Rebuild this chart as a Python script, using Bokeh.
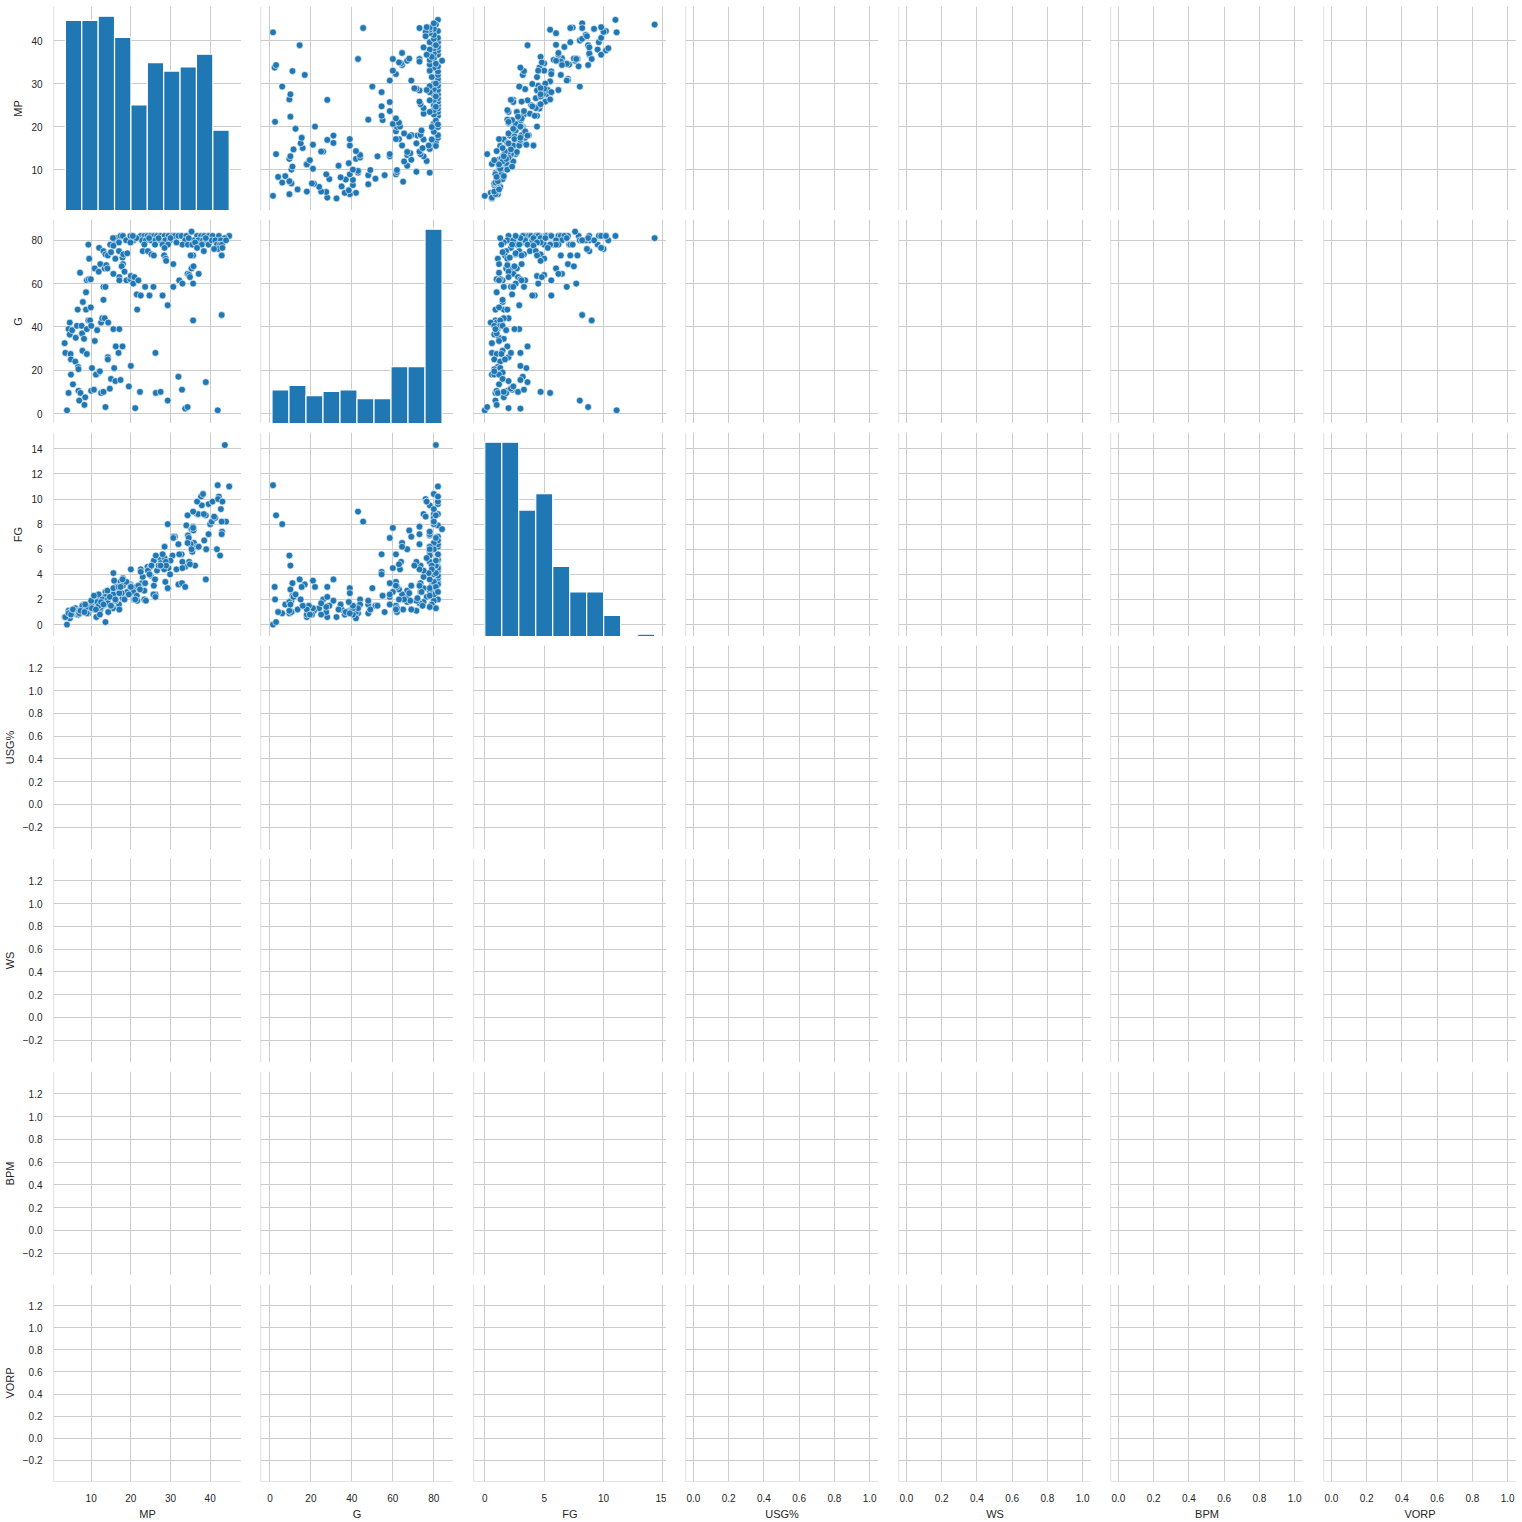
# Pair grid of player stats: MP, G and FG have values, the other four columns are empty
from bokeh.plotting import figure
from bokeh.layouts import gridplot
from bokeh.models import Range1d, LinearAxis, Grid, FixedTicker, Span
from bokeh.embed import file_html
from bokeh.resources import INLINE

names = ["MP", "G", "FG", "USG%", "WS", "BPM", "VORP"]

# one entry per player
mp = [15.8, 16.3, 17.4, 18.0, 18.8, 19.9, 20.7, 19.9, 22.5, 23.4, 24.2, 25.0, 25.8, 26.6, 27.5, 28.5,
      29.5, 30.5, 31.1, 22.8, 23.8, 25.0, 26.2, 27.5, 28.7, 29.9, 23.4, 26.1, 28.0, 29.4, 32.0, 32.8,
      34.0, 35.3, 36.7, 37.7, 38.5, 39.6, 33.7, 35.9, 37.0, 38.2, 39.0, 40.0, 33.0, 34.4, 35.5, 36.7,
      37.9, 39.6, 40.6, 42.2, 44.8, 43.7, 40.4, 41.3, 42.7, 41.7, 42.5, 43.0, 42.0, 43.1, 21.4, 24.6,
      27.0, 30.0, 34.6, 38.9, 36.2, 31.5, 44.0, 20.5, 17.0, 15.5, 9.3, 9.5, 12.0, 13.1, 13.6, 14.2,
      14.8, 15.6, 16.1, 17.0, 17.9, 18.1, 19.1, 15.0, 23.0, 24.3, 25.2, 25.8, 28.5, 28.4, 28.8, 28.9,
      35.7, 35.1, 38.4, 36.7, 42.9, 41.0, 7.2, 8.9, 9.4, 9.9, 10.9, 11.9, 12.3, 13.4, 13.8, 14.1,
      15.6, 17.1, 17.1, 18.0, 17.7, 18.4, 18.9, 19.9, 20.0, 20.6, 20.9, 21.9, 30.7, 32.2, 33.0, 34.3,
      34.7, 34.9, 35.3, 35.8, 35.7, 37.1, 6.6, 7.9, 8.7, 8.7, 9.3, 9.9, 13.1, 13.6, 13.1, 21.5,
      22.5, 21.6, 23.6, 24.7, 25.7, 28.0, 30.7, 29.3, 35.7, 42.9, 12.5, 12.8, 13.4, 14.3, 9.7, 4.6,
      3.3, 4.3, 4.6, 5.2, 6.1, 6.4, 7.6, 7.7, 8.2, 8.9, 10.0, 10.9, 11.5, 15.6, 17.1, 16.2,
      17.9, 16.9, 3.5, 4.8, 4.9, 6.0, 6.7, 6.8, 7.8, 8.9, 10.2, 11.3, 11.9, 14.2, 14.2, 15.8,
      26.2, 20.0, 32.0, 3.9, 4.3, 4.9, 5.4, 6.8, 7.0, 7.3, 8.3, 8.5, 10.0, 10.7, 11.2, 12.2,
      12.5, 13.1, 13.6, 14.7, 15.0, 16.1, 17.4, 19.5, 21.1, 22.3, 26.3, 27.5, 29.3, 32.9, 33.7, 34.3,
      38.9, 41.9]
g = [80, 81, 82, 82, 80, 82, 80, 79, 82, 82, 82, 82, 82, 82, 82, 82,
     82, 82, 82, 80, 80, 80, 80, 80, 80, 80, 78, 78, 78, 78, 82, 82,
     82, 84, 82, 82, 82, 82, 80, 80, 80, 80, 80, 80, 78, 78, 78, 78,
     78, 78, 82, 82, 82, 81, 80, 80, 80, 78, 78, 78, 76, 76.5, 81, 81,
     81, 81, 81, 81, 79, 79, 80, 82, 79, 81, 78, 71.5, 76.5, 75, 73.5, 73,
     78, 77.5, 71.5, 75, 72, 73.5, 74, 74.5, 75, 75, 73.5, 73, 76.5, 73, 71.5, 70.5,
     73, 73, 75, 76.5, 73, 76, 65, 61.5, 62, 62, 67, 65.5, 69, 67, 68.5, 67,
     64.5, 63, 61.5, 69, 68, 65.5, 61.5, 62, 63.5, 60, 63, 61.5, 69, 61.5, 60, 64.5,
     64, 63, 67, 68, 60, 64.5, 48, 51.5, 56, 48, 43, 49, 58.5, 58.5, 52.5, 55,
     54.5, 48, 58.5, 54.5, 58.5, 54.5, 58.5, 50, 43, 45.5, 42, 44, 44, 42, 43, 42,
     32.5, 39, 36.5, 38.5, 35, 40.5, 40.5, 37, 34.5, 39, 40.5, 33.5, 38.5, 39, 39, 31,
     31, 28, 28, 27.5, 25, 24, 21.5, 20.5, 29, 27.5, 21, 18, 19, 26, 25, 21,
     28, 22, 17, 1.5, 9.5, 18, 13.5, 10.5, 6, 9.5, 4, 7.5, 10.5, 11, 18, 19.5,
     9.5, 10, 3, 11.5, 16, 15, 15.5, 12.5, 2.5, 10, 9.5, 10, 6, 11, 2.3, 3,
     14.5, 1.5]
fg = [2.9, 3.0, 3.4, 3.7, 2.4, 3.2, 2.0, 3.1, 4.4, 2.0, 4.6, 3.9, 5.1, 4.3, 5.2, 6.2,
      4.5, 5.5, 7.0, 3.3, 1.9, 4.6, 2.4, 4.9, 3.4, 4.0, 2.7, 3.6, 5.6, 2.9, 6.4, 5.6,
      7.9, 7.6, 8.8, 10.2, 6.7, 9.6, 4.6, 6.5, 8.8, 10.4, 6.0, 8.0, 5.0, 7.1, 5.8, 6.2,
      9.5, 7.2, 9.8, 10.2, 11.0, 14.3, 8.2, 8.5, 9.2, 6.0, 5.5, 7.4, 10.0, 9.8, 3.0, 4.1,
      4.7, 5.1, 6.9, 8.7, 4.7, 4.4, 8.2, 2.6, 1.6, 1.3, 1.4, 1.1, 2.2, 1.8, 2.6, 1.7,
      2.3, 4.1, 1.9, 2.9, 2.1, 3.3, 2.6, 1.5, 3.8, 4.3, 4.7, 3.1, 5.3, 4.4, 5.0, 4.7,
      7.8, 6.4, 8.8, 9.8, 7.2, 8.6, 1.2, 1.5, 1.0, 1.3, 1.8, 2.4, 1.2, 2.2, 1.9, 2.7,
      2.4, 2.8, 1.2, 3.1, 2.5, 2.0, 3.4, 3.0, 4.4, 2.6, 2.0, 3.1, 7.0, 5.6, 4.5, 6.5,
      5.0, 4.8, 6.0, 7.5, 7.7, 6.2, 0.9, 1.5, 1.0, 1.6, 0.9, 1.2, 1.6, 2.2, 1.5, 2.3,
      4.2, 1.9, 3.3, 4.0, 2.4, 5.6, 6.9, 2.9, 9.0, 8.2, 1.4, 2.0, 1.6, 1.0, 1.3, 0.5,
      0.6, 1.1, 0.8, 1.0, 1.2, 0.8, 1.3, 1.0, 1.6, 0.9, 1.5, 1.2, 1.8, 2.9, 2.5, 1.9,
      3.6, 3.0, 0.6, 1.0, 0.8, 1.3, 1.1, 0.8, 1.5, 1.4, 1.3, 0.6, 1.5, 2.0, 1.7, 3.5,
      2.2, 3.0, 3.2, 0.0, 0.9, 0.8, 1.2, 1.0, 0.9, 1.1, 1.0, 1.6, 1.9, 2.3, 1.2, 0.8,
      1.8, 1.6, 0.2, 2.2, 1.5, 2.0, 3.0, 2.4, 2.0, 2.8, 5.5, 4.7, 8.0, 3.3, 3.0, 8.7,
      3.6, 11.1]

# histogram counts on the diagonal (10 bins each)
mp_counts = [45, 45, 46, 41, 25, 35, 33, 34, 37, 19]
g_counts = [23, 26, 19, 22, 23, 17, 17, 39, 39, 133]
fg_counts = [83, 83, 54, 61, 30, 19, 19, 9, 0, 1]
mp_span = (3.5, 44.8)
g_span = (1.0, 84.0)
fg_span = (0.0, 14.3)

values = {"MP": mp, "G": g, "FG": fg}
hists = {"MP": (mp_counts, mp_span), "G": (g_counts, g_span), "FG": (fg_counts, fg_span)}

x_lims = {"MP": (0.5, 47.9), "G": (-4.6, 89.6), "FG": (-0.95, 15.3)}
y_lims = {"MP": (0.5, 47.9), "G": (-4.6, 89.6), "FG": (-0.95, 15.3)}
empty_x = (-0.045, 1.05)
empty_y = (-0.395, 1.395)

x_ticks = {"MP": [10, 20, 30, 40], "G": [0, 20, 40, 60, 80], "FG": [0, 5, 10, 15]}
y_ticks = {"MP": [10, 20, 30, 40], "G": [0, 20, 40, 60, 80], "FG": [0, 2, 4, 6, 8, 10, 12, 14]}
empty_xt = [0.0, 0.2, 0.4, 0.6, 0.8, 1.0]
empty_yt = [-0.2, 0.0, 0.2, 0.4, 0.6, 0.8, 1.0, 1.2]

blue = "#1f77b4"
light = "#cccccc"
ink = "#262626"
font = "Liberation Sans"

# panel frame sizes and the gaps in front of each column / above each row
frame_w, frame_h = 193, 204
col_gap = [48, 19, 20, 19, 20, 19, 20]
row_gap = [6, 9, 9, 9, 9, 9, 9]
bottom_gap = 34


def tick_text(t):
    if isinstance(t, float):
        s = "%.1f" % t
    else:
        s = str(t)
    return s.replace("-", "\u2212")


def style_axis(ax, ticks):
    ax.ticker = FixedTicker(ticks=ticks)
    ax.major_label_overrides = {t: tick_text(t) for t in ticks}
    ax.axis_line_color = None
    ax.major_tick_line_color = None
    ax.minor_tick_line_color = None
    ax.major_label_text_font = font
    ax.major_label_text_font_size = "10px"
    ax.major_label_text_color = ink
    ax.axis_label_text_font = font
    ax.axis_label_text_font_size = "11px"
    ax.axis_label_text_color = ink
    ax.axis_label_text_font_style = "normal"
    ax.major_label_standoff = 5
    ax.axis_label_standoff = 4


rows = []
for r in range(7):
    row = []
    for c in range(7):
        xn, yn = names[c], names[r]
        xl = x_lims.get(xn, empty_x)
        yl = y_lims.get(yn, empty_y)
        xt = x_ticks.get(xn, empty_xt)
        yt = y_ticks.get(yn, empty_yt)

        left = col_gap[c]
        top = row_gap[r]
        bottom = bottom_gap if r == 6 else 0

        p = figure(width=left + frame_w, height=top + frame_h + bottom,
                   x_range=Range1d(*xl), y_range=Range1d(*yl),
                   x_axis_type=None, y_axis_type=None,
                   output_backend="svg", toolbar_location=None,
                   min_border_left=left, min_border_right=0,
                   min_border_top=top, min_border_bottom=bottom)
        p.outline_line_color = None
        p.background_fill_color = "white"
        p.border_fill_color = "white"

        p.add_layout(Grid(dimension=0, ticker=FixedTicker(ticks=xt),
                          grid_line_color=light, grid_line_width=1))
        p.add_layout(Grid(dimension=1, ticker=FixedTicker(ticks=yt),
                          grid_line_color=light, grid_line_width=1))

        if r == c and xn in hists:
            counts, (lo, hi) = hists[xn]
            step = (hi - lo) / len(counts)
            edges = [lo + i * step for i in range(len(counts) + 1)]
            p.extra_y_ranges = {"cnt": Range1d(0, max(counts) * 1.05)}
            p.quad(left=edges[:-1], right=edges[1:], bottom=0, top=counts,
                   y_range_name="cnt", fill_color=blue, line_color="white",
                   line_width=1.2)
        elif xn in values and yn in values:
            p.scatter(values[xn], values[yn], size=6.8, fill_color=blue,
                      line_color="white", line_width=0.6)

        # left and bottom spines
        p.add_layout(Span(location=xl[0], dimension="height",
                          line_color=light, line_width=1.25))
        p.add_layout(Span(location=yl[0], dimension="width",
                          line_color=light, line_width=1.25))

        if c == 0:
            ax = LinearAxis(axis_label=yn)
            style_axis(ax, yt)
            p.add_layout(ax, "left")
        if r == 6:
            ax = LinearAxis(axis_label=xn)
            style_axis(ax, xt)
            ax.major_label_standoff = 6
            ax.axis_label_standoff = 3
            p.add_layout(ax, "below")
        row.append(p)
    rows.append(row)

grid = gridplot(rows, toolbar_location=None)

open("out.html", "w").write(file_html(grid, INLINE))
